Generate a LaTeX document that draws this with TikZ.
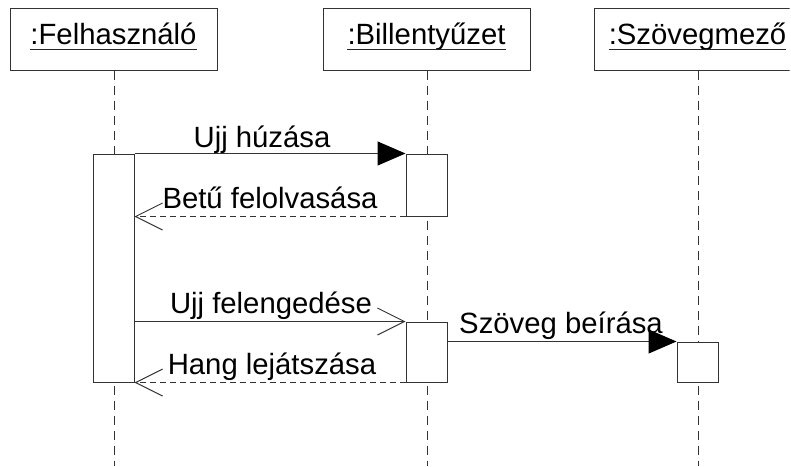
\documentclass[tikz,border=0pt]{standalone}
\usepackage{fontspec}
\setmainfont{Liberation Sans}
\usetikzlibrary{arrows.meta}
\definecolor{ink}{HTML}{333333}
\begin{document}
\begin{tikzpicture}[x=1pt,y=-1pt,
  font=\fontsize{29.3}{33}\selectfont,
  obj/.style={draw=ink,line width=1pt,fill=white,minimum width=207pt,minimum height=62pt,inner sep=0pt},
  title/.style={anchor=base,inner sep=0pt},
  uline/.style={draw=black!85,line width=1.8pt},
  act/.style={draw=ink,line width=1pt,fill=white,minimum width=41pt,inner sep=0pt},
  life/.style={draw=ink,line width=1pt,dash pattern=on 9pt off 6pt},
  call/.style={draw=ink,line width=1pt,-{Triangle[length=28pt,width=24pt,fill=black,color=black]}},
  async/.style={draw=ink,line width=1pt,-{Straight Barb[length=27pt,width=27pt]}},
  reply/.style={draw=ink,line width=1pt,dash pattern=on 6pt off 4pt,-{Straight Barb[length=27pt,width=27pt]}},
  lbl/.style={anchor=base,inner sep=0pt}]
\useasboundingbox (0,0) rectangle (791,466);
\clip (0,0) rectangle (789.5,466);

% object boxes with underlined names
\node[obj] (felh) at (113.5,39) {};
\node[obj] (bill) at (426.5,39) {};
\node[obj] (szov) at (697.5,39) {};
\node[title] (felht) at (113.5,44) {:Felhasználó};
\node[title] (billt) at (426.5,44) {:Billentyűzet};
\node[title] (szovt) at (697.5,44) {:Szövegmező};
\foreach \t in {felht,billt,szovt}
  \draw[uline] ([yshift=-5.5pt]\t.base west) -- ([yshift=-5.5pt]\t.base east);

% lifelines
\coordinate (fend) at (114,466);
\coordinate (bend) at (427,466);
\coordinate (send) at (698,466);
\draw[life] (felh.south -| fend) -- (fend);
\draw[life] (bill.south -| bend) -- (bend);
\draw[life] (szov.south -| send) -- (send);

% activation bars
\node[act,minimum height=228pt] (fa) at (113.5,268) {};
\node[act,minimum height=62pt] (ba1) at (426.5,185) {};
\node[act,minimum height=60pt] (ba2) at (426.5,352) {};
\node[act,minimum height=40pt] (sa) at (697.5,362) {};

% messages
\draw[call] (fa.east |- ba1.north) -- (ba1.north west);
\node[lbl] (m1) at (262,147) {Ujj húzása};
\draw[reply] (ba1.south west) -- (fa.east |- ba1.south);
\node[lbl] (m2) at (270,208) {Betű felolvasása};
\draw[async] (fa.east |- ba2.north) -- (ba2.north west);
\node[lbl] (m3) at (271,313) {Ujj felengedése};
\draw[call] (ba2.east |- sa.north) -- (sa.north west);
\node[lbl] (m4) at (561,333) {Szöveg beírása};
\draw[reply] (ba2.south west) -- (fa.south east);
\node[lbl] (m5) at (272,374) {Hang lejátszása};
\end{tikzpicture}
\end{document}
